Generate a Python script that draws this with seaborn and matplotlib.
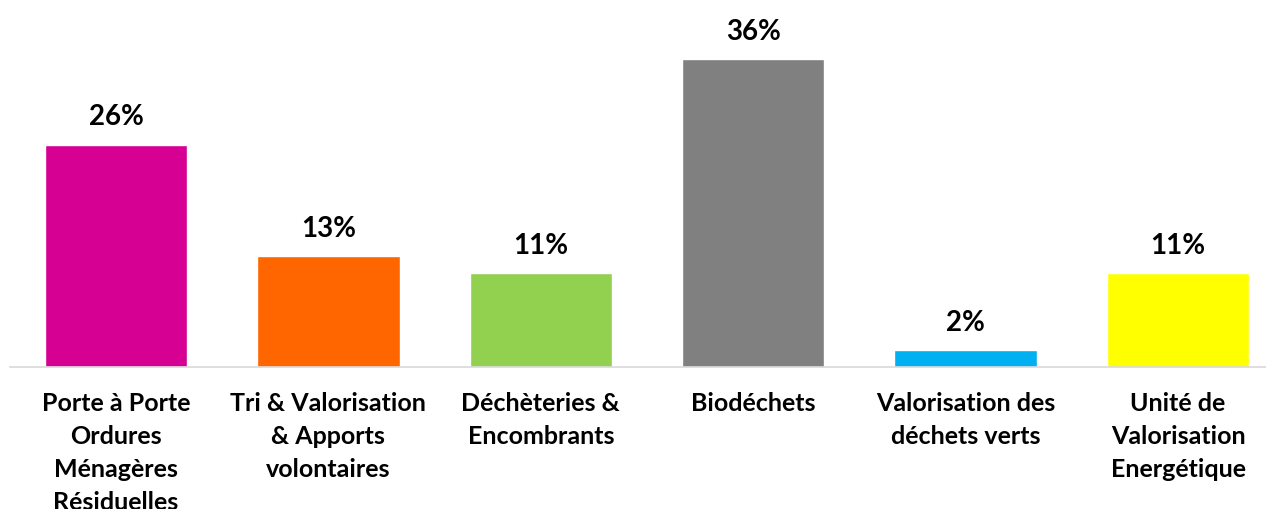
import matplotlib
matplotlib.use("Agg")
import matplotlib.pyplot as plt
import seaborn as sns
import pandas as pd
import numpy as np

# Répartition des coûts par activité (en %)
categories = [
    "Porte à Porte\nOrdures\nMénagères\nRésiduelles",
    "Tri & Valorisation\n& Apports\nvolontaires",
    "Déchèteries &\nEncombrants",
    "Biodéchets",
    "Valorisation des\ndéchets verts",
    "Unité de\nValorisation\nEnergétique",
]
values = [26, 13, 11, 36, 2, 11]
colors = ["#D60093", "#FF6600", "#92D050", "#808080", "#00B0F0", "#FFFF00"]

df = pd.DataFrame({"cat": categories, "val": values})

sns.set_theme(style="white")
plt.rcParams["font.family"] = ["Lato", "DejaVu Sans"]

fig = plt.figure(figsize=(12.66, 5.10), dpi=100)
W, H = 1266, 510
left_px, step_px = 9.8, 212.4
base_px, top_px = 368, 26
ax = fig.add_axes([left_px / W, (H - base_px) / H,
                   6 * step_px / W, (base_px - top_px) / H])

sns.barplot(data=df, x="cat", y="val", hue="cat", palette=colors,
            legend=False, width=0.67, ax=ax, saturation=1)

ax.set_xlim(-0.5, 5.5)
ax.set_ylim(0, 40)

for c in ax.containers:
    ax.bar_label(c, labels=[f"{int(round(v))}%" for v in c.datavalues],
                 padding=11, fontsize=20, fontweight="bold", color="black")

for s in ["top", "right", "left"]:
    ax.spines[s].set_visible(False)
ax.spines["bottom"].set_color("#d9d9d9")
ax.spines["bottom"].set_linewidth(1.2)

ax.set_yticks([])
ax.set_xlabel("")
ax.set_ylabel("")
ax.set_xticks(range(len(categories)))
ax.set_xticklabels(categories, fontsize=18, fontweight="bold",
                   color="black", linespacing=1.53, va="top")
ax.tick_params(axis="x", which="major", length=0, pad=17)
ax.set_xticks(np.arange(-0.5, 6, 1), minor=True)
ax.tick_params(axis="x", which="minor", length=6, width=1.2,
               color="#d9d9d9", direction="out")

fig.savefig("out.png", dpi=100)
